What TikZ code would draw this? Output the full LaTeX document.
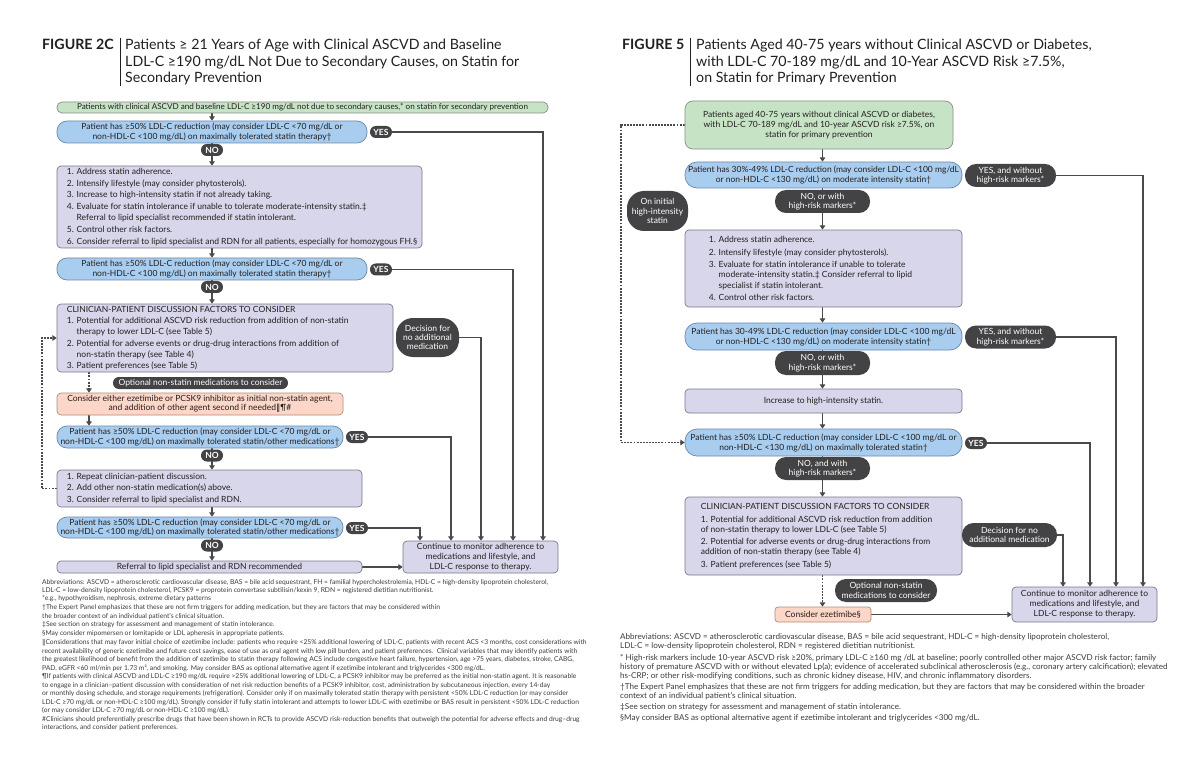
\documentclass[tikz,border=0pt]{standalone}
\usepackage{fontspec}
\setmainfont{Lato}
\newfontfamily\dejavu{DejaVu Sans}
\usetikzlibrary{arrows.meta}
\definecolor{greenf}{HTML}{C7E3C5}
\definecolor{greend}{HTML}{858F85}
\definecolor{bluef}{HTML}{A9CDEF}
\definecolor{blued}{HTML}{6E87A8}
\definecolor{purf}{HTML}{D8D6EA}
\definecolor{purd}{HTML}{7A7A8C}
\definecolor{oraf}{HTML}{FCD6C6}
\definecolor{orad}{HTML}{B38C7C}
\definecolor{pillc}{HTML}{434345}
\definecolor{linec}{HTML}{4A4A4C}
\definecolor{txt}{HTML}{231F20}
\definecolor{foot}{HTML}{3C3C3C}
\newcommand\bxf{\fontsize{8.5}{9.4}\selectfont}
\newcommand\fnl{\fontsize{6.7}{8.6}\selectfont}
\newcommand\fnr{\fontsize{8.1}{9}\selectfont}
\newcommand\dbar{{\dejavu ‖}}
\pgfdeclarelayer{back}
\pgfdeclarelayer{bg}
\pgfsetlayers{back,bg,main}
\tikzset{
  bx/.style={draw, line width=0.7pt, inner sep=0pt, align=center, font=\bxf, text=txt},
  gbox/.style={bx, fill=greenf, draw=greend},
  bbox/.style={bx, fill=bluef, draw=blued},
  pbox/.style={bx, fill=purf, draw=purd},
  obox/.style={bx, fill=oraf, draw=orad},
  btxt/.style={anchor=west, align=left, inner sep=0pt, text=txt},
  pill/.style={fill=pillc, text=white, inner sep=0pt, align=center, font=\bxf},
  yn/.style={pill, font=\bxf\bfseries, minimum width=22pt, minimum height=12pt, rounded corners=5.9pt},
  conn/.style={draw=linec, line width=1.7pt},
  headx/.style={-{Triangle[width=5.5pt,length=4.2pt]}},
  arr/.style={conn, headx},
  dotline/.style={conn, line width=1.9pt, dash pattern=on 1.9pt off 1.2pt},
  ttl/.style={anchor=base west, inner sep=0pt, font=\fontsize{14.2}{16}\selectfont, text=txt},
  ttlb/.style={ttl, font=\fontsize{14.2}{16}\selectfont\bfseries},
  fl/.style={anchor=base west, font=\fnl, text=foot, inner sep=0pt},
  fr/.style={anchor=base west, font=\fnr, text=foot, inner sep=0pt},
}
\begin{document}
\begin{tikzpicture}[x=1pt,y=-1pt]
\begin{pgfonlayer}{back}
\fill[white] (0,0) rectangle (1200,770);
\end{pgfonlayer}
\useasboundingbox (0,0) rectangle (1200,770);

% ---------------- LEFT TITLE ----------------
\node[ttlb] (t1) at (42,50) {FIGURE 2C};
\node[ttl] (t1a) at (125,50) {Patients ≥ 21 Years of Age with Clinical ASCVD and Baseline};
\node[ttl] (t1b) at (125,66.5) {LDL-C ≥190 mg/dL Not Due to Secondary Causes, on Statin for};
\node[ttl] (t1c) at (125,83) {Secondary Prevention};
\draw[line width=0.9pt, txt] (120,38) -- (120,86);

% ---------------- LEFT FLOW ----------------
\node[gbox, rounded corners=5pt, minimum width=491pt, minimum height=11pt, font=\fontsize{8.1}{9}\selectfont] (g1) at (302.5,107.5)
  {Patients with clinical ASCVD and baseline LDL-C ≥190 mg/dL not due to secondary causes,* on statin for secondary prevention};
\node[bbox, rounded corners=10pt, minimum width=310pt, minimum height=22pt] (b1) at (212,132)
  {Patient has ≥50\% LDL-C reduction (may consider LDL-C <70 mg/dL or\\non-HDL-C <100 mg/dL) on maximally tolerated statin therapy†};
\node[yn] (yes1) at (381,132) {YES};
\node[yn] (no1) at (212,150) {NO};

\node[pbox, rounded corners=4pt, minimum width=365pt, minimum height=82pt] (p1) at (239.5,207) {};
\node[btxt, font=\fontsize{8.5}{11.6}\selectfont] (p1t) at ([xshift=10pt]p1.west)
  {1. Address statin adherence.\\
   2. Intensify lifestyle (may consider phytosterols).\\
   3. Increase to high-intensity statin if not already taking.\\
   4. Evaluate for statin intolerance if unable to tolerate moderate-intensity statin.‡\\
   \phantom{4. }Referral to lipid specialist recommended if statin intolerant.\\
   5. Control other risk factors.\\
   6. Consider referral to lipid specialist and RDN for all patients, especially for homozygous FH.§};

\node[bbox, rounded corners=10pt, minimum width=310pt, minimum height=22pt] (b2) at (212,269)
  {Patient has ≥50\% LDL-C reduction (may consider LDL-C <70 mg/dL or\\non-HDL-C <100 mg/dL) on maximally tolerated statin therapy†};
\node[yn] (yes2) at (381,269.5) {YES};
\node[yn] (no2) at (212,287) {NO};

\node[pbox, rounded corners=4pt, minimum width=336pt, minimum height=68pt] (c1) at (225,338) {};
\node[btxt, font=\fontsize{8.5}{11.3}\selectfont] (c1t) at ([xshift=10pt]c1.west)
  {CLINICIAN-PATIENT DISCUSSION FACTORS TO CONSIDER\\
   1. Potential for additional ASCVD risk reduction from addition of non-statin\\
   \phantom{1. }therapy to lower LDL-C (see Table 5)\\
   2. Potential for adverse events or drug-drug interactions from addition of\\
   \phantom{2. }non-statin therapy (see Table 4)\\
   3. Patient preferences (see Table 5)};
\node[pill, rounded corners=17pt, minimum width=63pt, minimum height=39pt] (dec1) at (427.5,337.5)
  {Decision for\\no additional\\medication};

\node[pill, rounded corners=5.9pt, minimum width=175pt, minimum height=12pt] (opt1) at (200.5,383)
  {Optional non-statin medications to consider};
\node[obox, rounded corners=4pt, minimum width=286pt, minimum height=22pt] (o1) at (200,404)
  {Consider either ezetimibe or PCSK9 inhibitor as initial non-statin agent,\\and addition of other agent second if needed\dbar¶\#};
\node[bbox, rounded corners=10pt, minimum width=286pt, minimum height=22pt] (b3) at (200,437)
  {Patient has ≥50\% LDL-C reduction (may consider LDL-C <70 mg/dL or\\non-HDL-C <100 mg/dL) on maximally tolerated statin/other medications†};
\node[yn] (yes3) at (357,437) {YES};
\node[yn] (no3) at (212,455.5) {NO};

\node[pbox, rounded corners=4pt, minimum width=305pt, minimum height=37pt] (p3) at (209.5,488.5) {};
\node[btxt, font=\fontsize{8.5}{11.8}\selectfont] (p3t) at ([xshift=10pt]p3.west)
  {1. Repeat clinician-patient discussion.\\
   2. Add other non-statin medication(s) above.\\
   3. Consider referral to lipid specialist and RDN.};

\node[bbox, rounded corners=10pt, minimum width=286pt, minimum height=21pt] (b4) at (200,527.5)
  {Patient has ≥50\% LDL-C reduction (may consider LDL-C <70 mg/dL or\\non-HDL-C <100 mg/dL) on maximally tolerated statin/other medications†};
\node[yn] (yes4) at (357,528) {YES};
\node[yn] (no4) at (212,545.5) {NO};

\node[pbox, rounded corners=4pt, minimum width=305pt, minimum height=12pt] (r1) at (209.5,567)
  {Referral to lipid specialist and RDN recommended};
\node[pbox, rounded corners=4pt, minimum width=155pt, minimum height=32pt, font=\fontsize{8.5}{10}\selectfont] (m1) at (480.5,557)
  {Continue to monitor adherence to\\medications and lifestyle, and\\LDL-C response to therapy.};

% ---------------- LEFT FOOTNOTES ----------------
\node[fl] (fa1) at (42,584.8) {Abbreviations: ASCVD = atherosclerotic cardiovascular disease, BAS = bile acid sequestrant, FH = familial hypercholestrolemia, HDL-C = high-density lipoprotein cholesterol,};
\node[fl] (fa2) at (42,592.8) {LDL-C = low-density lipoprotein cholesterol, PCSK9 = proprotein convertase subtilisin/kexin 9, RDN = registered dietitian nutritionist.};
\node[fl] (fa3) at (42,600.8) {*e.g., hypothyroidism, nephrosis, extreme dietary patterns};
\node[fl] (fa4) at (42,609.8) {†The Expert Panel emphasizes that these are not firm triggers for adding medication, but they are factors that may be considered within};
\node[fl] (fa5) at (42,618.8) {the broader context of an individual patient’s clinical situation.};
\node[fl] (fa6) at (42,626.8) {‡See section on strategy for assessment and management of statin intolerance.};
\node[fl] (fa7) at (42,635.8) {§May consider mipomersen or lomitapide or LDL apheresis in appropriate patients.};
\node[fl] (fa8) at (42,644.8) {\dbar Considerations that may favor initial choice of ezetimibe include: patients who require <25\% additional lowering of LDL-C, patients with recent ACS <3 months, cost considerations with};
\node[fl] (fa9) at (42,653.8) {recent availability of generic ezetimibe and future cost savings, ease of use as oral agent with low pill burden, and patient preferences.\ \ Clinical variables that may identify patients with};
\node[fl] (fa10) at (42,661.8) {the greatest likelihood of benefit from the addition of ezetimibe to statin therapy following ACS include congestive heart failure, hypertension, age >75 years, diabetes, stroke, CABG,};
\node[fl] (fa11) at (42,670.8) {PAD, eGFR <60 ml/min per 1.73 m², and smoking. May consider BAS as optional alternative agent if ezetimibe intolerant and triglycerides <300 mg/dL.};
\node[fl] (fa12) at (42,678.8) {¶If patients with clinical ASCVD and LDL-C ≥190 mg/dL require >25\% additional lowering of LDL-C, a PCSK9 inhibitor may be preferred as the initial non-statin agent. It is reasonable};
\node[fl] (fa13) at (42,687.8) {to engage in a clinician–patient discussion with consideration of net risk reduction benefits of a PCSK9 inhibitor, cost, administration by subcutaneous injection, every 14-day};
\node[fl] (fa14) at (42,695.8) {or monthly dosing schedule, and storage requirements (refrigeration). Consider only if on maximally tolerated statin therapy with persistent <50\% LDL-C reduction (or may consider};
\node[fl] (fa15) at (42,704.8) {LDL-C ≥70 mg/dL or non-HDL-C ≥100 mg/dL). Strongly consider if fully statin intolerant and attempts to lower LDL-C with ezetimibe or BAS result in persistent <50\% LDL-C reduction};
\node[fl] (fa16) at (42,712.8) {(or may consider LDL-C ≥70 mg/dL or non-HDL-C ≥100 mg/dL).};
\node[fl] (fa17) at (42,721.8) {\#Clinicians should preferentially prescribe drugs that have been shown in RCTs to provide ASCVD risk-reduction benefits that outweigh the potential for adverse effects and drug–drug};
\node[fl] (fa18) at (42,729.8) {interactions, and consider patient preferences.};

% ---------------- RIGHT TITLE ----------------
\node[ttlb] (t2) at (622,50) {FIGURE 5};
\node[ttl] (t2a) at (696,50) {Patients Aged 40-75 years without Clinical ASCVD or Diabetes,};
\node[ttl] (t2b) at (696,66.5) {with LDL-C 70-189 mg/dL and 10-Year ASCVD Risk ≥7.5\%,};
\node[ttl] (t2c) at (696,83) {on Statin for Primary Prevention};
\draw[line width=0.9pt, txt] (690,38) -- (690,86);

% ---------------- RIGHT FLOW ----------------
\node[gbox, rounded corners=8pt, minimum width=268pt, minimum height=48pt, font=\fontsize{8.5}{10}\selectfont] (g2) at (819,125)
  {Patients aged 40-75 years without clinical ASCVD or diabetes,\\with LDL-C 70-189 mg/dL and 10-year ASCVD risk ≥7.5\%, on\\statin for primary prevention};
\node[bbox, rounded corners=12pt, minimum width=277pt, minimum height=26pt, font=\fontsize{8.5}{10}\selectfont] (b5) at (823.5,175)
  {Patient has 30\%-49\% LDL-C reduction (may consider LDL-C <100 mg/dL\\or non-HDL-C <130 mg/dL) on moderate intensity statin†};
\node[pill, rounded corners=11pt, minimum width=91pt, minimum height=23pt] (yes5) at (1010.5,175.5)
  {YES, and without\\high-risk markers*};
\node[pill, rounded corners=11pt, minimum width=95pt, minimum height=23pt] (no5) at (822.5,201.5)
  {NO, or with\\high-risk markers*};
\node[pill, rounded corners=17pt, minimum width=61pt, minimum height=40pt] (init) at (657.5,211)
  {On initial\\high-intensity\\statin};

\node[pbox, rounded corners=4pt, minimum width=277pt, minimum height=77pt] (p5) at (823.5,268.5) {};
\node[btxt, font=\fontsize{8.5}{10.3}\selectfont] (p5t) at ([xshift=24pt]p5.west)
  {1. Address statin adherence.\\[2.2pt]
   2. Intensify lifestyle (may consider phytosterols).\\[2.2pt]
   3. Evaluate for statin intolerance if unable to tolerate\\
   \phantom{3. }moderate-intensity statin.‡ Consider referral to lipid\\
   \phantom{3. }specialist if statin intolerant.\\[2.2pt]
   4. Control other risk factors.};

\node[bbox, rounded corners=12pt, minimum width=277pt, minimum height=27pt, font=\fontsize{8.5}{10}\selectfont] (b6) at (823.5,336.5)
  {Patient has 30-49\% LDL-C reduction (may consider LDL-C <100 mg/dL\\or non-HDL-C <130 mg/dL) on moderate intensity statin†};
\node[pill, rounded corners=11pt, minimum width=91pt, minimum height=23pt] (yes6) at (1010.5,337)
  {YES, and without\\high-risk markers*};
\node[pill, rounded corners=11pt, minimum width=95pt, minimum height=24pt] (no6) at (822.5,363)
  {NO, or with\\high-risk markers*};
\node[pbox, rounded corners=4pt, minimum width=277pt, minimum height=24pt] (p6) at (823.5,401)
  {Increase to high-intensity statin.};
\node[bbox, rounded corners=12pt, minimum width=277pt, minimum height=27pt, font=\fontsize{8.5}{10}\selectfont] (b7) at (823.5,442.5)
  {Patient has ≥50\% LDL-C reduction (may consider LDL-C <100 mg/dL or\\non-HDL-C <130 mg/dL) on maximally tolerated statin†};
\node[yn] (yes7) at (976,443) {YES};
\node[pill, rounded corners=11pt, minimum width=95pt, minimum height=23pt] (no7) at (822.5,468.5)
  {NO, and with\\high-risk markers*};

\node[pbox, rounded corners=4pt, minimum width=277pt, minimum height=78pt] (c2) at (823.5,536) {};
\node[btxt, font=\fontsize{8.5}{10.2}\selectfont] (c2t) at ([xshift=16pt]c2.west)
  {CLINICIAN-PATIENT DISCUSSION FACTORS TO CONSIDER\\[2.5pt]
   1. Potential for additional ASCVD risk reduction from addition\\
   of non-statin therapy to lower LDL-C (see Table 5)\\[1.5pt]
   2. Potential for adverse events or drug-drug interactions from\\
   addition of non-statin therapy (see Table 4)\\[2.5pt]
   3. Patient preferences (see Table 5)};
\node[pill, rounded corners=11.5pt, minimum width=95pt, minimum height=24pt] (dec2) at (1009.5,535)
  {Decision for no\\additional medication};
\node[pill, rounded corners=11pt, minimum width=102pt, minimum height=23pt] (opt2) at (886,590.5)
  {Optional non-statin\\medications to consider};
\node[obox, rounded corners=3pt, minimum width=96pt, minimum height=15pt] (ez) at (823,614.5)
  {Consider ezetimibe§};
\node[pbox, rounded corners=4pt, minimum width=145pt, minimum height=35pt, font=\fontsize{8.5}{10}\selectfont] (m2) at (1084.5,604.5)
  {Continue to monitor adherence to\\medications and lifestyle, and\\LDL-C response to therapy.};

% ---------------- RIGHT FOOTNOTES ----------------
\node[fr] (fb1) at (620,639) {Abbreviations: ASCVD = atherosclerotic cardiovascular disease, BAS = bile acid sequestrant, HDL-C = high-density lipoprotein cholesterol,};
\node[fr] (fb2) at (620,648) {LDL-C = low-density lipoprotein cholesterol, RDN = registered dietitian nutritionist.};
\node[fr] (fb3) at (620,660) {* High-risk markers include 10-year ASCVD risk ≥20\%, primary LDL-C ≥160 mg /dL at baseline; poorly controlled other major ASCVD risk factor; family};
\node[fr] (fb4) at (620,669) {history of premature ASCVD with or without elevated Lp(a); evidence of accelerated subclinical atherosclerosis (e.g., coronary artery calcification); elevated};
\node[fr] (fb5) at (620,678) {hs-CRP; or other risk-modifying conditions, such as chronic kidney disease, HIV, and chronic inflammatory disorders.};
\node[fr] (fb6) at (620,689) {†The Expert Panel emphasizes that these are not firm triggers for adding medication, but they are factors that may be considered within the broader};
\node[fr] (fb7) at (620,698) {context of an individual patient’s clinical situation.};
\node[fr] (fb8) at (620,709) {‡See section on strategy for assessment and management of statin intolerance.};
\node[fr] (fb9) at (620,720) {§May consider BAS as optional alternative agent if ezetimibe intolerant and triglycerides <300 mg/dL.};

% ---------------- CONNECTORS ----------------
\begin{pgfonlayer}{bg}
\coordinate (xa) at (212,0);
\coordinate (xb) at (89,0);
\coordinate (xl) at (42,0);
\coordinate (v1) at (543,0);
\coordinate (v2) at (513,0);
\coordinate (v3) at (481,0);
\coordinate (v4) at (451,0);
\coordinate (v5) at (420,0);
\draw[arr] (g1.south -| xa) -- (b1.north -| xa);
\draw[arr] (b1.south -| xa) -- (p1.north -| xa);
\draw[arr] (p1.south -| xa) -- (b2.north -| xa);
\draw[arr] (b2.south -| xa) -- (c1.north -| xa);
\draw[dotline, headx] (c1.south -| xb) -- (o1.north -| xb);
\draw[arr] (o1.south -| xb) -- (b3.north -| xb);
\draw[arr] (b3.south -| xa) -- (p3.north -| xa);
\draw[arr] (p3.south -| xa) -- (b4.north -| xa);
\draw[arr] (b4.south -| xa) -- (r1.north -| xa);
\draw[arr] (r1.east) -- (m1.west |- r1.east);
\draw[arr] (yes1.east) -| (m1.north -| v1);
\draw[arr] (yes2.east) -| (m1.north -| v2);
\draw[arr] (dec1.east) -| (m1.north -| v3);
\draw[arr] (yes3.east) -| (m1.north -| v4);
\draw[arr] (yes4.east) -| (m1.north -| v5);
\draw[dotline, headx] (p3.west) -- (p3.west -| xl) |- (c1.west);

\coordinate (xc) at (822.5,0);
\coordinate (xr) at (621,0);
\coordinate (w1) at (1143,0);
\coordinate (w2) at (1116,0);
\coordinate (w3) at (1090,0);
\coordinate (w4) at (1063,0);
\draw[arr] (g2.south -| xc) -- (b5.north -| xc);
\draw[arr] (b5.south -| xc) -- (p5.north -| xc);
\draw[arr] (p5.south -| xc) -- (b6.north -| xc);
\draw[arr] (b6.south -| xc) -- (p6.north -| xc);
\draw[arr] (p6.south -| xc) -- (b7.north -| xc);
\draw[arr] (b7.south -| xc) -- (c2.north -| xc);
\draw[dotline, headx] (c2.south -| xc) -- (ez.north -| xc);
\draw[arr] (ez.east) -- (m2.west |- ez.east);
\draw[arr] (yes5.east) -| (m2.north -| w1);
\draw[arr] (yes6.east) -| (m2.north -| w2);
\draw[arr] (yes7.east) -| (m2.north -| w3);
\draw[arr] (dec2.east) -| (m2.north -| w4);
\draw[dotline, headx] (g2.west) -- (g2.west -| xr) |- (b7.west);
\end{pgfonlayer}
\end{tikzpicture}
\end{document}
